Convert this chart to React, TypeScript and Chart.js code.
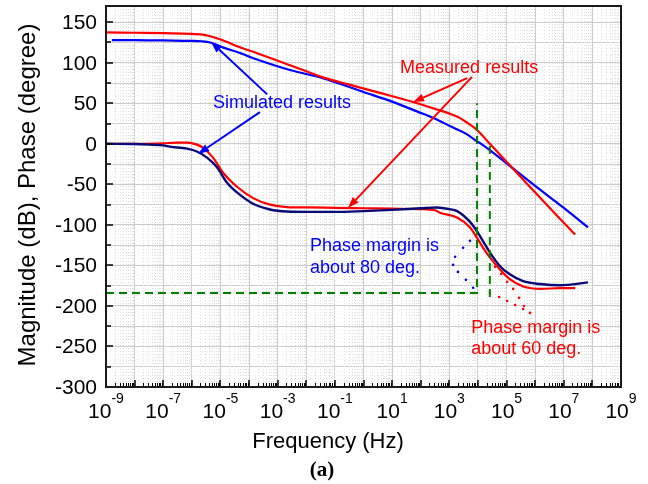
import { useEffect, useRef } from "react";
import { Chart, registerables } from "chart.js";

Chart.register(...registerables);

const FONT = "'Liberation Sans', Arial, Helvetica, sans-serif";
const SERIF = "'Liberation Serif', 'Times New Roman', serif";
const RED = "#ff0000";
const BLUE = "#0000ff";
const NAVY = "#0b0b78";
const GREEN = "#008000";

// Frequency axis: a grid line per decade, labels on the odd powers of ten
const decadeExponents = [-9, -8, -7, -6, -5, -4, -3, -2, -1, 0, 1, 2, 3, 4, 5, 6, 7, 8, 9];
const labelledExponents = [-9, -7, -5, -3, -1, 1, 3, 5, 7, 9];
const minorMultipliers = [2, 3, 4, 5, 6, 7, 8, 9];

// Vertical axis: grid every 25, labels every 50
const yMin = -300;
const yMax = 170;
const yGridValues = [-300, -275, -250, -225, -200, -175, -150, -125, -100, -75, -50, -25, 0, 25, 50, 75, 100, 125, 150];
const yLabelValues = [-300, -250, -200, -150, -100, -50, 0, 50, 100, 150];

// Measured loop gain magnitude (dB)
const magMeasuredHz = [1e-9, 1e-8, 1e-7, 1e-6, 2.1e-6, 4.4e-6, 1.2e-5, 4.8e-5, 1.9e-4, 2.7e-3, 3.8e-2, 0.32, 3.2, 54, 320, 1.35e3, 2.3e3, 4.2e3, 9.3e3, 2.6e4, 1e5, 1e6, 1e7, 2.5e7];
const magMeasuredDb = [137.5, 137, 136.5, 135.5, 135, 132.7, 127.8, 119, 111.8, 97, 82, 73, 63.5, 51.6, 43, 35.6, 32, 26, 17, 0, -22, -60, -97.5, -112];

// Simulated loop gain magnitude (dB)
const magSimulatedHz = [1.6e-9, 1e-8, 1e-7, 1e-6, 2.1e-6, 4.4e-6, 1.2e-5, 4.8e-5, 1.9e-4, 2.7e-3, 3.8e-2, 0.15, 1, 10, 74, 320, 1.35e3, 4e3, 9.3e3, 1.3e4, 1e5, 1e6, 1e7, 7e7];
const magSimulatedDb = [128, 128, 127.5, 127, 126.5, 125, 119, 112, 104, 91, 81, 74, 64, 52, 40, 31, 20, 12, 3, 0, -24, -52, -79, -103];

// Measured phase (degree)
const phaseMeasuredHz = [1e-9, 1e-8, 1e-7, 3e-7, 6.8e-7, 1.5e-6, 2.5e-6, 5.5e-6, 1.26e-5, 3.8e-5, 1.38e-4, 5.4e-4, 2.1e-3, 1.35e-2, 0.1, 1, 10, 100, 320, 470, 1.86e3, 5.2e3, 9.3e3, 1.5e4, 2.6e4, 5.9e4, 1.3e5, 3.8e5, 1.5e6, 7.4e6, 2.5e7];
const phaseMeasuredDeg = [0, 0, 0.5, 1.5, 1.5, -1, -5, -17, -36, -53, -67, -75, -78, -78.5, -79, -79.5, -80, -80.5, -82, -85, -91, -103, -116, -128, -140, -155, -167, -176, -179, -178, -178];

// Simulated phase (degree)
const phaseSimulatedHz = [1e-9, 1e-8, 3.2e-8, 1e-7, 1.7e-7, 6.8e-7, 1.5e-6, 3.4e-6, 7.6e-6, 1.7e-5, 3.8e-5, 1.38e-4, 5.4e-4, 2.1e-3, 1.35e-2, 0.1, 1, 10, 100, 370, 1e3, 1.86e3, 5.2e3, 9.3e3, 1.5e4, 2.6e4, 5.9e4, 1.3e5, 3.8e5, 1.5e6, 7.4e6, 7e7];
const phaseSimulatedDeg = [0, -0.3, -1, -2, -3.5, -6, -9.5, -17, -29, -48, -60, -74, -81, -83.5, -84, -84, -83, -81.5, -79.5, -78.5, -80.5, -83, -96, -108, -120, -134, -151, -161, -169.5, -173, -174.5, -171];

// Crossover guides (dashed green)
const guideSimHz = [1e-9, 9.3e3, 9.3e3];
const guideSimDeg = [-184, -184, 50];
const guideMeasHz = [2.6e4, 2.6e4];
const guideMeasDeg = [-189, 2];

// Dotted phase-margin arcs
const arcSimHz = [9.3e3, 5.25e3, 3.02e3, 1.585e3, 1.35e3, 2e3, 3.8e3, 6.76e3];
const arcSimDeg = [-108.6, -119.7, -128.3, -139.4, -149.3, -158, -167.8, -177.6];
const arcMeasUpperHz = [3.98e4, 6.46e4, 1.05e5, 1.7e5, 2.75e5, 4.07e5, 6.6e5];
const arcMeasUpperDeg = [-151.8, -160.5, -170.3, -179, -190, -200, -208.6];
const arcMeasLowerHz = [2.63e4, 5.5e4, 1.05e5, 2e5, 3.8e5];
const arcMeasLowerDeg = [-184, -189, -194, -198.8, -203.7];

// Callout labels (anchored at left end of the text baseline, in axis units)
const noteTexts = ["Simulated results", "Measured results", "Phase margin is", "about 80 deg.", "Phase margin is", "about 60 deg."];
const noteHz = [5.5e-6, 19, 1.35e-2, 1.35e-2, 5.8e3, 5.8e3];
const noteVal = [44, 87, -132, -159, -234, -259.5];
const noteColors = [BLUE, RED, BLUE, BLUE, RED, RED];

// Callout arrows: tail -> head, in axis units
const arrowFromHz = [4.3e-4, 2.4e-4, 4.2e3, 6.2e3];
const arrowFromVal = [61, 39, 81, 82.5];
const arrowToHz = [4.7e-6, 1.66e-6, 54, 0.29];
const arrowToVal = [125.5, -12.5, 51.6, -79];
const arrowColors = [BLUE, BLUE, RED, RED];

const pts = (xs: number[], ys: number[]) => xs.map((x, i) => ({ x, y: ys[i] }));

const overlayPlugin = {
  id: "bodeOverlay",
  beforeDatasetsDraw(chart: any) {
    const { ctx, chartArea: a, scales } = chart;
    const xs = scales.x;
    const ys = scales.y;
    ctx.save();
    ctx.beginPath();
    ctx.rect(a.left, a.top, a.right - a.left, a.bottom - a.top);
    ctx.clip();
    ctx.lineWidth = 1;
    ctx.setLineDash([1, 2]);
    ctx.strokeStyle = "#dedede";
    for (const e of decadeExponents) {
      for (const m of minorMultipliers) {
        const px = Math.round(xs.getPixelForValue(m * Math.pow(10, e))) + 0.5;
        if (px <= a.left + 1 || px >= a.right - 1) continue;
        ctx.beginPath();
        ctx.moveTo(px, a.top);
        ctx.lineTo(px, a.bottom);
        ctx.stroke();
      }
    }
    ctx.strokeStyle = "#eeeeee";
    ctx.setLineDash([1, 3]);
    for (let v = yMin + 5; v < yMax; v += 5) {
      if (v % 25 === 0) continue;
      const py = Math.round(ys.getPixelForValue(v)) + 0.5;
      ctx.beginPath();
      ctx.moveTo(a.left, py);
      ctx.lineTo(a.right, py);
      ctx.stroke();
    }
    ctx.restore();
  },
  afterDatasetsDraw(chart: any) {
    const { ctx, scales } = chart;
    const xs = scales.x;
    const ys = scales.y;
    ctx.save();
    // arrows
    for (let i = 0; i < arrowColors.length; i++) {
      const x0 = xs.getPixelForValue(arrowFromHz[i]);
      const y0 = ys.getPixelForValue(arrowFromVal[i]);
      const x1 = xs.getPixelForValue(arrowToHz[i]);
      const y1 = ys.getPixelForValue(arrowToVal[i]);
      const ang = Math.atan2(y1 - y0, x1 - x0);
      const len = 11;
      const hw = 4;
      const bx = x1 - len * Math.cos(ang);
      const by = y1 - len * Math.sin(ang);
      ctx.strokeStyle = arrowColors[i];
      ctx.fillStyle = arrowColors[i];
      ctx.lineWidth = 2;
      ctx.beginPath();
      ctx.moveTo(x0, y0);
      ctx.lineTo(bx, by);
      ctx.stroke();
      ctx.beginPath();
      ctx.moveTo(x1, y1);
      ctx.lineTo(bx + hw * Math.sin(ang), by - hw * Math.cos(ang));
      ctx.lineTo(bx - hw * Math.sin(ang), by + hw * Math.cos(ang));
      ctx.closePath();
      ctx.fill();
    }
    // callout text
    ctx.font = `18px ${FONT}`;
    ctx.textAlign = "left";
    ctx.textBaseline = "alphabetic";
    for (let i = 0; i < noteTexts.length; i++) {
      ctx.fillStyle = noteColors[i];
      ctx.fillText(noteTexts[i], xs.getPixelForValue(noteHz[i]), ys.getPixelForValue(noteVal[i]));
    }
    ctx.restore();
  },
  afterDraw(chart: any) {
    const { ctx, chartArea: a, scales } = chart;
    const xs = scales.x;
    const ys = scales.y;
    ctx.save();
    // inward tick marks
    ctx.strokeStyle = "#000";
    ctx.lineWidth = 1.5;
    for (const e of decadeExponents) {
      const px = Math.round(xs.getPixelForValue(Math.pow(10, e)));
      ctx.beginPath();
      ctx.moveTo(px, a.bottom);
      ctx.lineTo(px, a.bottom - 7);
      ctx.stroke();
      for (const m of minorMultipliers) {
        const mx = Math.round(xs.getPixelForValue(m * Math.pow(10, e))) + 0.5;
        if (mx >= a.right) continue;
        ctx.lineWidth = 1;
        ctx.beginPath();
        ctx.moveTo(mx, a.bottom);
        ctx.lineTo(mx, a.bottom - 4);
        ctx.stroke();
        ctx.lineWidth = 1.5;
      }
    }
    for (const v of yGridValues) {
      const py = Math.round(ys.getPixelForValue(v));
      const len = v % 50 === 0 ? 7 : 5;
      ctx.beginPath();
      ctx.moveTo(a.left, py);
      ctx.lineTo(a.left + len, py);
      ctx.stroke();
    }
    // frame
    ctx.strokeStyle = "#1a1a1a";
    ctx.lineWidth = 2;
    ctx.strokeRect(a.left, a.top, a.right - a.left, a.bottom - a.top);

    // y tick labels
    ctx.fillStyle = "#000";
    ctx.font = `21px ${FONT}`;
    ctx.textAlign = "right";
    ctx.textBaseline = "middle";
    for (const v of yLabelValues) {
      ctx.fillText(String(v), a.left - 9, ys.getPixelForValue(v) + 1);
    }
    // x tick labels: 10 with superscript exponent
    ctx.textBaseline = "alphabetic";
    ctx.textAlign = "left";
    for (const e of labelledExponents) {
      const px = xs.getPixelForValue(Math.pow(10, e));
      ctx.font = `21px ${FONT}`;
      const wBase = ctx.measureText("10").width;
      ctx.font = `14px ${FONT}`;
      const sup = String(e);
      const wSup = ctx.measureText(sup).width;
      const start = px - (wBase + wSup) / 2;
      ctx.font = `21px ${FONT}`;
      ctx.fillText("10", start, a.bottom + 31);
      ctx.font = `14px ${FONT}`;
      ctx.fillText(sup, start + wBase, a.bottom + 16);
    }
    // axis titles
    ctx.textAlign = "center";
    ctx.font = `22px ${FONT}`;
    ctx.fillText("Frequency (Hz)", 328, a.bottom + 61);
    ctx.font = `bold 21px ${SERIF}`;
    ctx.fillText("(a)", 322, a.bottom + 89);
    ctx.save();
    ctx.translate(35, 195);
    ctx.rotate(-Math.PI / 2);
    ctx.font = `24px ${FONT}`;
    ctx.fillText("Magnitude (dB), Phase (degree)", 0, 0);
    ctx.restore();
    ctx.restore();
  },
};

export default function App() {
  const canvasRef = useRef<HTMLCanvasElement | null>(null);

  useEffect(() => {
    document.body.style.margin = "0";
    const canvas = canvasRef.current;
    if (!canvas) return;

    const curve = (data: { x: number; y: number }[], color: string, width = 2.2) => ({
      data,
      borderColor: color,
      backgroundColor: color,
      borderWidth: width,
      pointRadius: 0,
      tension: 0.4,
      cubicInterpolationMode: "monotone" as const,
      fill: false,
    });
    const guide = (data: { x: number; y: number }[]) => ({
      data,
      borderColor: GREEN,
      borderWidth: 2,
      borderDash: [8, 5],
      pointRadius: 0,
      tension: 0,
      fill: false,
    });
    const dots = (data: { x: number; y: number }[], color: string) => ({
      data,
      showLine: false,
      pointRadius: 1.3,
      pointBorderWidth: 0,
      pointBackgroundColor: color,
      borderColor: color,
    });

    const chart = new Chart(canvas, {
      type: "line",
      data: {
        datasets: [
          guide(pts(guideSimHz, guideSimDeg)),
          guide(pts(guideMeasHz, guideMeasDeg)),
          dots(pts(arcSimHz, arcSimDeg), BLUE),
          dots(pts(arcMeasUpperHz, arcMeasUpperDeg), RED),
          dots(pts(arcMeasLowerHz, arcMeasLowerDeg), RED),
          curve(pts(magMeasuredHz, magMeasuredDb), RED),
          curve(pts(magSimulatedHz, magSimulatedDb), BLUE),
          curve(pts(phaseSimulatedHz, phaseSimulatedDeg), NAVY, 2.4),
          curve(pts(phaseMeasuredHz, phaseMeasuredDeg), RED),
        ] as any,
      },
      options: {
        animation: false,
        responsive: false,
        devicePixelRatio: 1,
        layout: { padding: { top: 6, right: 27, left: 0, bottom: 0 } },
        plugins: { legend: { display: false }, tooltip: { enabled: false }, title: { display: false } },
        events: [],
        scales: {
          x: {
            type: "logarithmic",
            min: 1e-9,
            max: 1e9,
            afterBuildTicks: (s: any) => {
              s.ticks = decadeExponents.map((e) => ({ value: Math.pow(10, e) }));
            },
            afterFit: (s: any) => {
              s.height = 97;
            },
            ticks: { display: false, autoSkip: false },
            grid: { color: "#cccccc", lineWidth: 1, drawTicks: false },
            border: { display: false },
          },
          y: {
            type: "linear",
            min: yMin,
            max: yMax,
            afterBuildTicks: (s: any) => {
              s.ticks = yGridValues.map((v) => ({ value: v }));
            },
            afterFit: (s: any) => {
              s.width = 106;
            },
            ticks: { display: false },
            grid: { color: "#cccccc", lineWidth: 1, drawTicks: false },
            border: { display: false },
          },
        },
      } as any,
      plugins: [overlayPlugin],
    });

    return () => chart.destroy();
  }, []);

  return (
    <div style={{ width: 648, height: 484, background: "#fff" }}>
      <canvas ref={canvasRef} width={648} height={484} style={{ display: "block" }} />
    </div>
  );
}
